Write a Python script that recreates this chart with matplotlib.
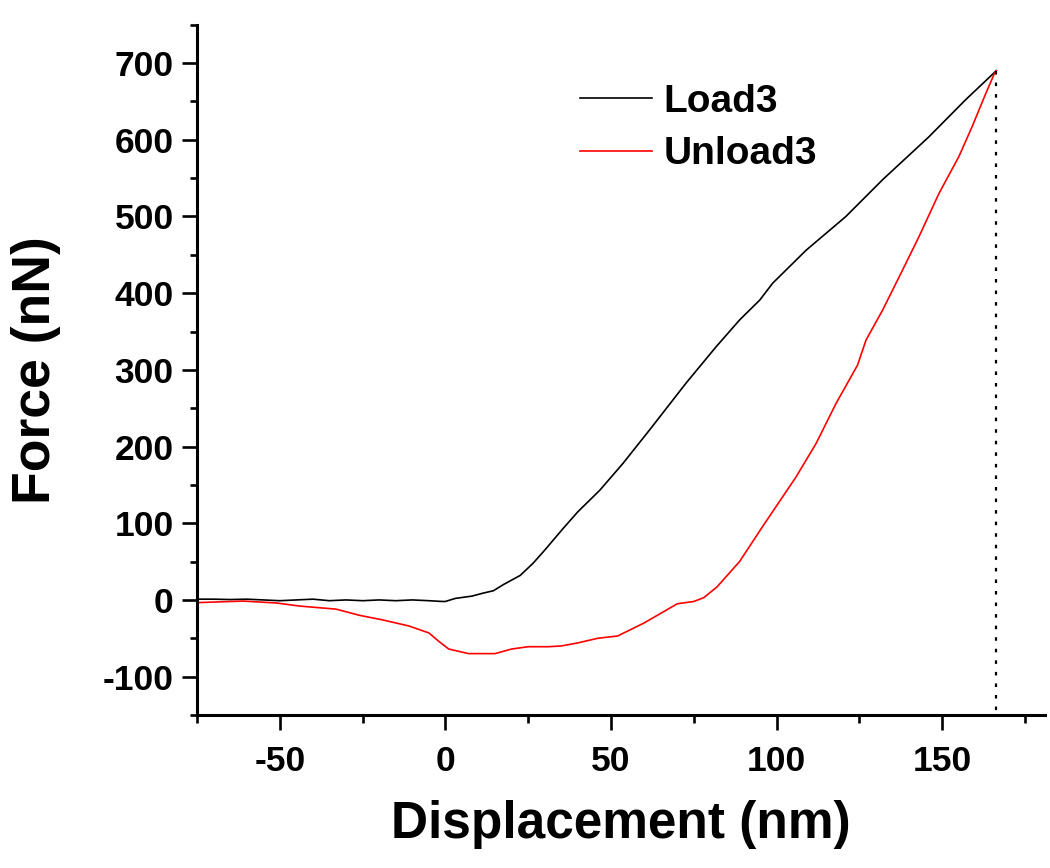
import matplotlib
matplotlib.use("Agg")
import matplotlib.pyplot as plt
from matplotlib.ticker import MultipleLocator

plt.rcParams['font.family'] = ['Liberation Sans', 'DejaVu Sans']
plt.rcParams['font.weight'] = 'bold'
plt.rcParams['axes.unicode_minus'] = False

# Load curve (displacement nm, force nN)
load_x = [-75, -70, -65, -60, -55, -50, -45, -40, -35, -30, -25, -20, -15, -10, -5, -1, 0,
          3, 8, 11.5, 14.5, 17.5, 22.6, 26.5, 30, 35.5, 40, 46.6, 53.6, 61.7, 72.7, 81.7,
          88.8, 94.9, 98.8, 108.9, 120.9, 132, 146, 157, 166.3]
load_y = [1, 1, 0.5, 1, 0, -1, 0, 1, -1, 0, -1, 0, -1, 0, -1, -2, -2,
          2, 5, 9, 12, 20, 32, 48, 65, 93, 115, 143, 178, 222, 283, 330,
          365, 391, 413, 456, 500, 548, 604, 652, 690]

# Unload curve
unload_x = [166.3, 165.7, 163.1, 159, 155, 149, 143, 138, 132, 127, 124.4, 117.9, 111.9,
            105.8, 100.8, 95.8, 88.8, 82, 78, 75, 70, 60, 52, 46, 40, 35, 31, 25, 20,
            15, 7, 1, -2, -5, -11, -19, -26, -33, -44, -51, -61, -75]
unload_y = [690, 686, 660, 617, 578, 530, 474, 430, 378, 339, 306, 256, 204,
            160, 128, 96, 50, 17, 3, -2, -5, -30, -47, -50, -56, -60, -61, -61, -64,
            -70, -70, -64, -54, -43, -34, -26, -20, -12, -8, -4, -1.5, -3.5]

max_disp = 166.3
max_force = 690

fig = plt.figure(figsize=(10.5, 8.68), dpi=100)
ax = fig.add_axes([0.1876, 0.1763, 0.8076, 0.7952])

ax.plot(load_x, load_y, color='black', lw=1.2, label='Load3')
ax.plot(unload_x, unload_y, color='red', lw=1.2, label='Unload3')
ax.plot([max_disp, max_disp], [max_force, -150], color='black', lw=1.6,
        linestyle=(0, (1.6, 3.6)))

ax.set_xlim(-75, 181)
ax.set_ylim(-150, 750)
ax.xaxis.set_major_locator(MultipleLocator(50))
ax.xaxis.set_minor_locator(MultipleLocator(25))
ax.yaxis.set_major_locator(MultipleLocator(100))
ax.yaxis.set_minor_locator(MultipleLocator(50))
ax.set_yticks([-100, 0, 100, 200, 300, 400, 500, 600, 700])

for s in ['top', 'right']:
    ax.spines[s].set_visible(False)
for s in ['left', 'bottom']:
    ax.spines[s].set_linewidth(2.2)

ax.tick_params(axis='both', which='major', direction='out', length=10.8, width=1.9,
               labelsize=25.5)
ax.tick_params(axis='both', which='minor', direction='out', length=5.4, width=1.9)
ax.tick_params(axis='x', which='major', pad=11)
ax.tick_params(axis='y', which='major', pad=6)
for lab in ax.get_xticklabels() + ax.get_yticklabels():
    lab.set_fontweight('bold')

ax.set_xlabel('Displacement (nm)', fontsize=37, fontweight='bold', labelpad=16)
ax.set_ylabel('Force (nN)', fontsize=38.5, fontweight='bold', labelpad=30)

leg = ax.legend(loc='upper left', bbox_to_anchor=(580 / 1050, 1 - 84 / 868),
                bbox_transform=fig.transFigure, frameon=False, fontsize=28,
                handlelength=1.85, handletextpad=0.3, labelspacing=0.42, borderpad=0,
                borderaxespad=0)
for t in leg.get_texts():
    t.set_fontweight('bold')

fig.savefig('out.png', dpi=100)
